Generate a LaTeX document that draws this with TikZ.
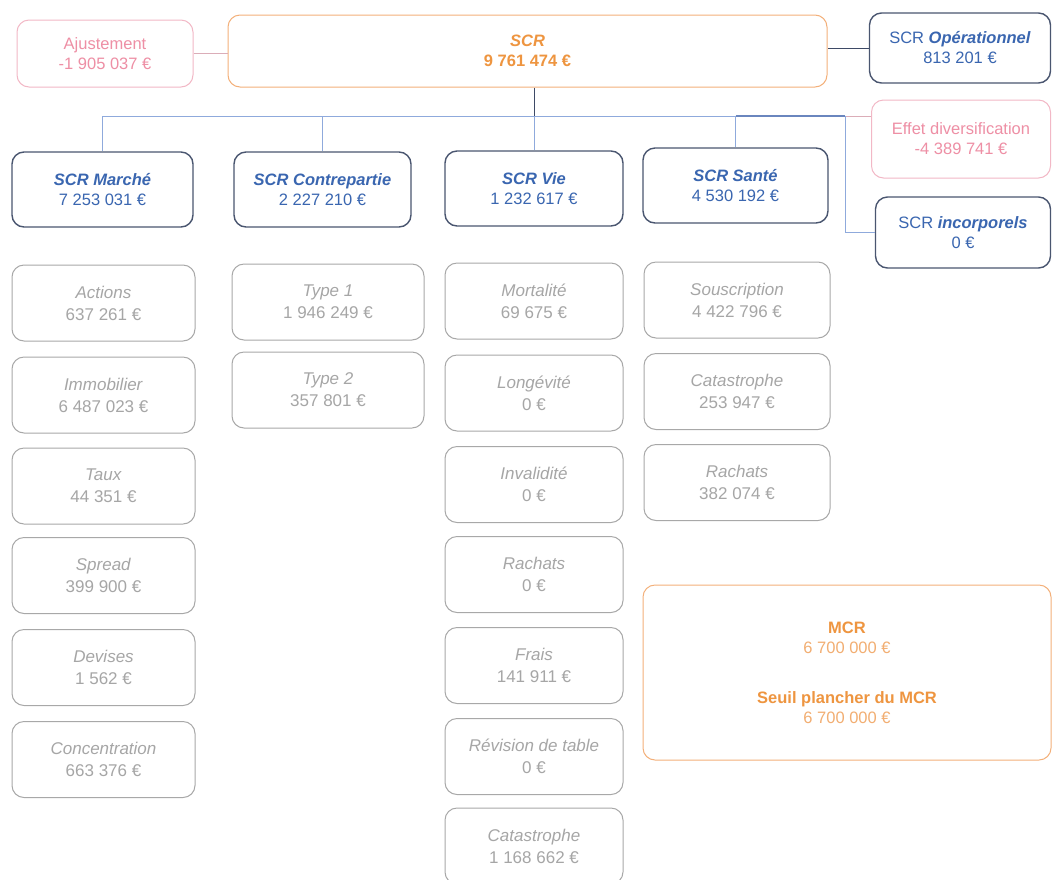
\documentclass[tikz,border=0pt]{standalone}
\usepackage{fontspec}
\setmainfont{Liberation Sans}
\definecolor{pinkT}{HTML}{EE8FA5}
\definecolor{pinkB}{HTML}{F2B8C6}
\definecolor{orangeT}{HTML}{EE9540}
\definecolor{orangeL}{HTML}{F2AE72}
\definecolor{orangeB}{HTML}{F3B07A}
\definecolor{blueT}{HTML}{3A66B0}
\definecolor{blueB}{HTML}{4A5670}
\definecolor{grayT}{HTML}{A6A6A6}
\definecolor{grayB}{HTML}{A8A8A8}
\definecolor{lineBlue}{HTML}{8FAADC}
\definecolor{lineDark}{HTML}{3E4A66}
\definecolor{lineMid}{HTML}{6A86BE}
\tikzset{
  box/.style={draw, rounded corners=12pt, inner sep=0pt, align=center,
    font=\fontsize{16.5}{20}\selectfont},
  pinkbox/.style={box, draw=pinkB, line width=1pt, text=pinkT, fill=white},
  orangebox/.style={box, draw=orangeB, line width=1pt, text=orangeT, fill=white},
  bluebox/.style={box, draw=blueB, line width=1.4pt, text=blueT, fill=white},
  graybox/.style={box, draw=grayB, line width=1pt, text=grayT, fill=white,
    font=\fontsize{17}{22}\selectfont},
  wire/.style={draw=lineBlue, line width=1pt},
  darkwire/.style={draw=lineDark, line width=1pt},
  midwire/.style={draw=lineMid, line width=1.4pt},
  pinkwire/.style={draw=pinkB!80!gray, line width=1pt},
}
\newcommand{\bi}[1]{\textbf{\textit{#1}}}
\begin{document}
\begin{tikzpicture}[x=1pt, y=-1pt]
\useasboundingbox (0,0) rectangle (1052,879);

% top row
\node[pinkbox, minimum width=176pt, minimum height=67pt] (ajust) at (105,53.5)
  {Ajustement\\-1 905 037 €};
\node[orangebox, minimum width=599pt, minimum height=72pt] (scr) at (527.5,51)
  {\bi{SCR}\\\textbf{9 761 474 €}};
\node[bluebox, minimum width=181pt, minimum height=70pt] (op) at (960,48)
  {SCR \bi{Opérationnel}\\813 201 €};
\node[pinkbox, minimum width=179pt, minimum height=78pt] (effet) at (961,139)
  {Effet diversification\\-4 389 741 €};
\node[bluebox, minimum width=175pt, minimum height=71pt] (incorp) at (963,232.5)
  {SCR \bi{incorporels}\\0 €};

% modules
\node[bluebox, minimum width=181pt, minimum height=75pt] (marche) at (102.5,189.5)
  {\bi{SCR Marché}\\7 253 031 €};
\node[bluebox, minimum width=177pt, minimum height=75pt] (contre) at (322.5,189.5)
  {\bi{SCR Contrepartie}\\2 227 210 €};
\node[bluebox, minimum width=178pt, minimum height=75pt] (vie) at (534,188.5)
  {\bi{SCR Vie}\\1 232 617 €};
\node[bluebox, minimum width=185pt, minimum height=75pt] (sante) at (735.5,185.5)
  {\bi{SCR Santé}\\4 530 192 €};

% sub-modules: market
\node[graybox, minimum width=183pt, minimum height=76pt] (actions) at (103.5,303) {\textit{Actions}\\637 261 €};
\node[graybox, minimum width=183pt, minimum height=76pt] (immo) at (103.5,395) {\textit{Immobilier}\\6 487 023 €};
\node[graybox, minimum width=183pt, minimum height=76pt] (taux) at (103.5,486) {\textit{Taux}\\44 351 €};
\node[graybox, minimum width=183pt, minimum height=76pt] (spread) at (103.5,575.5) {\textit{Spread}\\399 900 €};
\node[graybox, minimum width=183pt, minimum height=76pt] (devises) at (103.5,667.5) {\textit{Devises}\\1 562 €};
\node[graybox, minimum width=183pt, minimum height=76pt] (conc) at (103.5,759.5) {\textit{Concentration}\\663 376 €};

% sub-modules: counterparty
\node[graybox, minimum width=192pt, minimum height=76pt] (type1) at (328,302) {\textit{Type 1}\\1 946 249 €};
\node[graybox, minimum width=192pt, minimum height=76pt] (type2) at (328,390) {\textit{Type 2}\\357 801 €};

% sub-modules: life
\node[graybox, minimum width=178pt, minimum height=76pt] (mort) at (534,301) {\textit{Mortalité}\\69 675 €};
\node[graybox, minimum width=178pt, minimum height=76pt] (longev) at (534,393) {\textit{Longévité}\\0 €};
\node[graybox, minimum width=178pt, minimum height=76pt] (inval) at (534,484.5) {\textit{Invalidité}\\0 €};
\node[graybox, minimum width=178pt, minimum height=76pt] (rachv) at (534,574.5) {\textit{Rachats}\\0 €};
\node[graybox, minimum width=178pt, minimum height=76pt] (frais) at (534,665.5) {\textit{Frais}\\141 911 €};
\node[graybox, minimum width=178pt, minimum height=76pt] (revis) at (534,756.5) {\textit{Révision de table}\\0 €};
\node[graybox, minimum width=178pt, minimum height=76pt] (catv) at (534,846) {\textit{Catastrophe}\\1 168 662 €};

% sub-modules: health
\node[graybox, minimum width=186pt, minimum height=76pt] (sousc) at (737,300) {\textit{Souscription}\\4 422 796 €};
\node[graybox, minimum width=186pt, minimum height=76pt] (cats) at (737,391.5) {\textit{Catastrophe}\\253 947 €};
\node[graybox, minimum width=186pt, minimum height=76pt] (rachs) at (737,482.5) {\textit{Rachats}\\382 074 €};

% MCR
\node[orangebox, minimum width=408pt, minimum height=175pt] (mcr) at (847,672.5)
  {\textbf{MCR}\\\textcolor{orangeL}{6 700 000 €}\\[30pt]\textbf{Seuil plancher du MCR}\\\textcolor{orangeL}{6 700 000 €}};

% connectors
\coordinate (busL) at (102.5,116);
\coordinate (busR) at (845,116);
\draw[pinkwire] (ajust.east) -- (ajust.east -| scr.west);
\draw[darkwire] (op.west) -- (op.west -| scr.east);
\draw[darkwire] (scr.south -| vie.north) -- (busR -| vie.north);
\draw[wire] (busL) -- (busR);
\draw[wire] (busL) -- (marche.north);
\draw[wire] (busL -| contre.north) -- (contre.north);
\draw[wire] (busL -| vie.north) -- (vie.north);
\draw[wire] (busL -| sante.north) -- (sante.north);
\draw[midwire] (busL -| sante.north) -- (busR);
\draw[pinkwire] (busR) -- (busR -| effet.west);
\draw[wire] (busR) -- (busR |- incorp.west) -- (incorp.west);
\end{tikzpicture}
\end{document}
